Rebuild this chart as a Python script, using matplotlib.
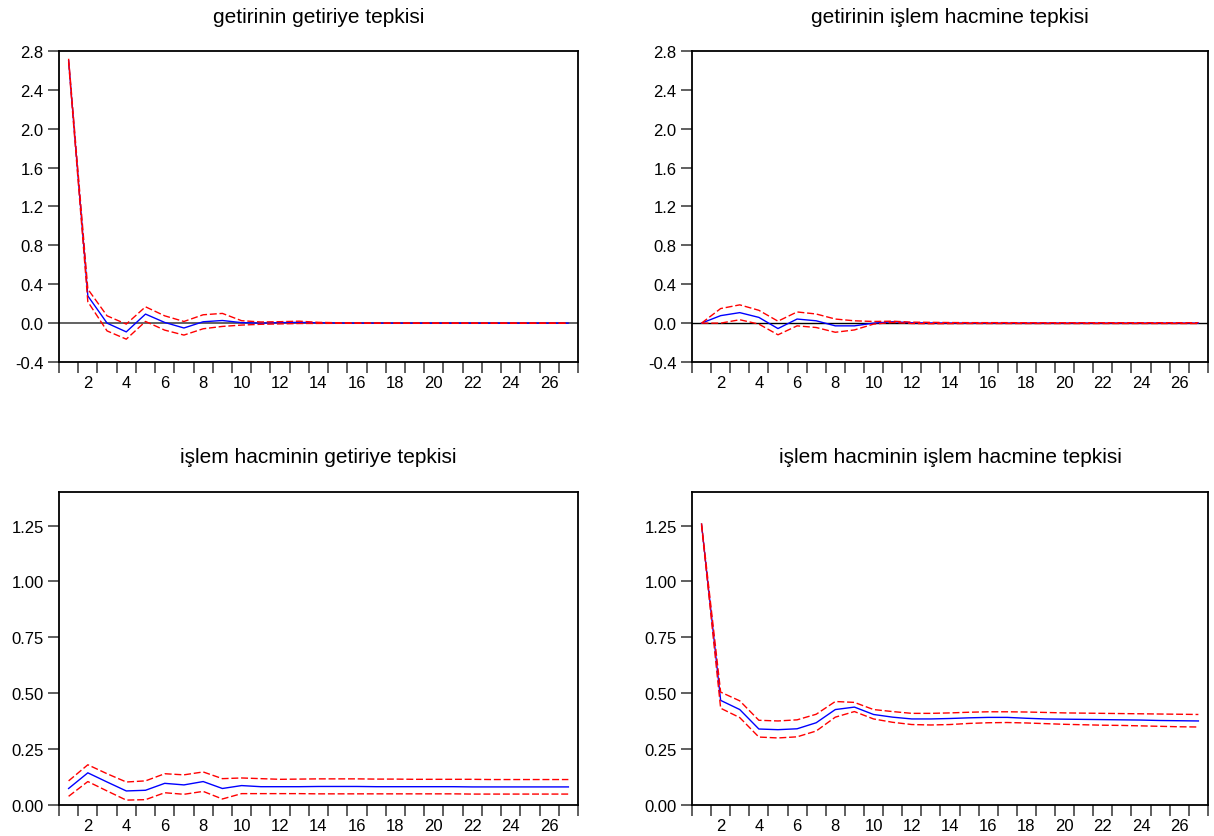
import matplotlib.pyplot as plt
from matplotlib.ticker import MultipleLocator, FormatStrFormatter

plt.rcParams['font.family'] = ['Liberation Sans', 'DejaVu Sans']

periods = list(range(1, 28))

# getirinin getiriye tepkisi
r_r = [2.70, 0.28, 0.00, -0.09, 0.093, 0.007, -0.05, 0.014, 0.027, 0.005,
       0.0, 0.005, 0.008, 0.003, 0.001, 0.0, 0.0, 0.0, 0.0, 0.0,
       0.0, 0.0, 0.0, 0.0, 0.0, 0.0, 0.0]
r_r_up = [2.72, 0.35, 0.075, -0.01, 0.168, 0.075, 0.017, 0.086, 0.10, 0.025,
          0.012, 0.015, 0.02, 0.008, 0.004, 0.003, 0.002, 0.002, 0.002, 0.002,
          0.002, 0.002, 0.002, 0.002, 0.002, 0.002, 0.002]
r_r_lo = [2.68, 0.22, -0.08, -0.165, 0.017, -0.072, -0.123, -0.058, -0.034, -0.02,
          -0.012, -0.008, -0.004, -0.003, -0.002, -0.002, -0.002, -0.002, -0.002, -0.002,
          -0.002, -0.002, -0.002, -0.002, -0.002, -0.002, -0.002]

# getirinin islem hacmine tepkisi
r_v = [0.0, 0.077, 0.108, 0.059, -0.056, 0.042, 0.024, -0.028, -0.028, 0.0,
       0.014, 0.004, 0.002, 0.001, 0.0, 0.0, 0.0, 0.0, 0.0, 0.0,
       0.0, 0.0, 0.0, 0.0, 0.0, 0.0, 0.0]
r_v_up = [0.0, 0.15, 0.188, 0.132, 0.02, 0.115, 0.094, 0.042, 0.024, 0.017,
          0.02, 0.010, 0.008, 0.006, 0.005, 0.005, 0.005, 0.004, 0.004, 0.004,
          0.004, 0.004, 0.004, 0.004, 0.004, 0.004, 0.004]
r_v_lo = [0.0, 0.0, 0.035, -0.01, -0.12, -0.028, -0.045, -0.094, -0.07, -0.01,
          0.007, -0.004, -0.006, -0.005, -0.004, -0.004, -0.004, -0.004, -0.004, -0.004,
          -0.004, -0.004, -0.004, -0.004, -0.004, -0.004, -0.004]

# islem hacminin getiriye tepkisi
v_r = [0.074, 0.144, 0.103, 0.063, 0.066, 0.097, 0.09, 0.105, 0.074, 0.087,
       0.082, 0.082, 0.082, 0.083, 0.083, 0.083, 0.082, 0.082, 0.082, 0.082,
       0.082, 0.081, 0.081, 0.081, 0.081, 0.081, 0.081]
v_r_up = [0.108, 0.18, 0.14, 0.103, 0.108, 0.14, 0.135, 0.148, 0.118, 0.121,
          0.118, 0.115, 0.116, 0.117, 0.117, 0.117, 0.116, 0.116, 0.115, 0.115,
          0.115, 0.115, 0.114, 0.114, 0.114, 0.114, 0.114]
v_r_lo = [0.039, 0.105, 0.063, 0.022, 0.024, 0.055, 0.048, 0.061, 0.027, 0.051,
          0.051, 0.051, 0.051, 0.050, 0.050, 0.050, 0.050, 0.050, 0.050, 0.050,
          0.050, 0.049, 0.049, 0.049, 0.049, 0.049, 0.049]

# islem hacminin islem hacmine tepkisi
v_v = [1.256, 0.468, 0.427, 0.34, 0.337, 0.341, 0.368, 0.427, 0.438, 0.405,
       0.393, 0.385, 0.385, 0.387, 0.39, 0.392, 0.392, 0.388, 0.385, 0.384,
       0.383, 0.382, 0.381, 0.380, 0.378, 0.377, 0.376]
v_v_up = [1.26, 0.505, 0.466, 0.379, 0.376, 0.381, 0.406, 0.463, 0.459, 0.427,
          0.418, 0.41, 0.41, 0.412, 0.415, 0.417, 0.417, 0.416, 0.414, 0.412,
          0.411, 0.410, 0.409, 0.408, 0.407, 0.406, 0.405]
v_v_lo = [1.25, 0.433, 0.391, 0.304, 0.30, 0.305, 0.331, 0.393, 0.418, 0.385,
          0.37, 0.36, 0.358, 0.36, 0.365, 0.368, 0.369, 0.367, 0.364, 0.361,
          0.359, 0.357, 0.356, 0.354, 0.352, 0.350, 0.349]

titles = ["getirinin getiriye tepkisi", "getirinin işlem hacmine tepkisi",
          "işlem hacminin getiriye tepkisi", "işlem hacminin işlem hacmine tepkisi"]

panels = [(r_r, r_r_up, r_r_lo), (r_v, r_v_up, r_v_lo),
          (v_r, v_r_up, v_r_lo), (v_v, v_v_up, v_v_lo)]

positions = [
    [0.0486, 0.5663, 0.4275, 0.3716],
    [0.5700, 0.5663, 0.4250, 0.3716],
    [0.0486, 0.0370, 0.4275, 0.3740],
    [0.5700, 0.0370, 0.4250, 0.3740],
]

fig = plt.figure(figsize=(12.14, 8.37), dpi=100)

for i, ((mid, up, lo), title, pos) in enumerate(zip(panels, titles, positions)):
    ax = fig.add_axes(pos)
    top = i < 2
    if top:
        zc = '#555555' if i == 0 else 'black'
        ax.axhline(0, color=zc, lw=1.3 if i == 0 else 1.0, zorder=1)
    ax.plot(periods, mid, color='blue', lw=1.0, zorder=3)
    ax.plot(periods, up, color='red', lw=1.0, dashes=(5, 2), zorder=4)
    ax.plot(periods, lo, color='red', lw=1.0, dashes=(5, 2), zorder=4)

    ax.set_xlim(0.5, 27.5)
    if top:
        ax.set_ylim(-0.4, 2.8)
        ax.yaxis.set_major_locator(MultipleLocator(0.4))
        ax.yaxis.set_major_formatter(FormatStrFormatter('%.1f'))
    else:
        ax.set_ylim(0, 1.4)
        ax.yaxis.set_major_locator(MultipleLocator(0.25))
        ax.yaxis.set_major_formatter(FormatStrFormatter('%.2f'))

    # ticks at period boundaries, labels at even periods
    ax.set_xticks([p + 0.5 for p in range(0, 28)])
    ax.set_xticklabels([])
    ax.set_xticks(list(range(2, 27, 2)), minor=True)
    ax.set_xticklabels([str(p) for p in range(2, 27, 2)], minor=True)
    ax.tick_params(axis='x', which='major', direction='out', length=8,
                   width=1.2, color='#444444')
    ax.tick_params(axis='x', which='minor', length=0, labelsize=12, pad=9)
    ax.tick_params(axis='y', direction='out', length=8, width=1.2,
                   color='#444444', labelsize=12, pad=3)
    ax.tick_params(right=False, top=False)
    for s in ax.spines.values():
        s.set_linewidth(1.3)
    ax.text(0.5, 1.112, title, transform=ax.transAxes, ha='center',
            va='center', fontsize=15)

fig.savefig('out.png', dpi=100)
